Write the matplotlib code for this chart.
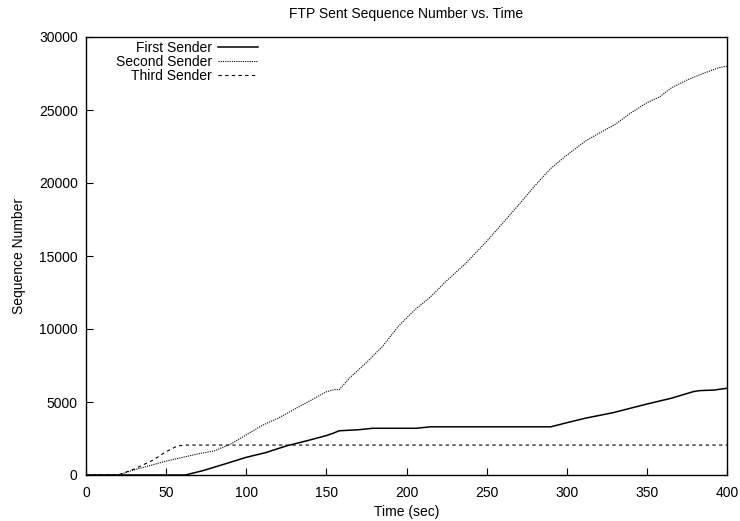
import matplotlib
matplotlib.use("Agg")
import matplotlib.pyplot as plt

plt.rcParams['font.family'] = ['Liberation Sans', 'DejaVu Sans']

# Data
t_first = [0, 62, 73, 85, 100, 112, 125, 138, 150, 154, 158, 170, 179, 206, 215, 290, 300, 312, 329, 340, 350, 365, 379, 383, 392, 400]
v_first = [0, 0, 300, 700, 1210, 1530, 1990, 2350, 2700, 2850, 3030, 3100, 3200, 3200, 3300, 3300, 3580, 3900, 4270, 4580, 4860, 5250, 5710, 5780, 5820, 5940]

t_second = [0, 20, 30, 40, 50, 60, 70, 80, 90, 100, 110, 120, 130, 140, 150, 155, 158, 165, 175, 185, 195, 205, 215, 225, 237, 250, 258, 270, 280, 290, 300, 312, 320, 330, 340, 350, 358, 365, 375, 385, 395, 400]
v_second = [0, 0, 350, 650, 950, 1200, 1450, 1650, 2100, 2750, 3400, 3900, 4500, 5100, 5700, 5850, 5850, 6700, 7700, 8800, 10200, 11300, 12200, 13300, 14500, 16000, 17000, 18500, 19800, 21000, 21900, 22900, 23400, 24000, 24800, 25500, 25900, 26500, 27050, 27500, 27900, 28000]

t_third = [0, 20, 30, 42, 50, 57, 62, 400]
v_third = [0, 0, 400, 1030, 1600, 1990, 2050, 2050]

x_ticks = [0, 50, 100, 150, 200, 250, 300, 350, 400]
y_ticks = [0, 5000, 10000, 15000, 20000, 25000, 30000]

FS = 10

fig = plt.figure(figsize=(7.4, 5.21), dpi=100)
ax = fig.add_axes([86/740, 46/521, (727-86)/740, (475-37)/521])

ax.plot(t_first, v_first, color='black', lw=1.1, ls='-', label='First Sender')
ax.plot(t_second, v_second, color='black', lw=0.8, ls=(0, (1, 1)), label='Second Sender')
ax.plot(t_third, v_third, color='black', lw=0.8, ls=(0, (3, 3)), label='Third Sender')

ax.set_xlim(0, 400)
ax.set_ylim(0, 30000)
ax.set_xticks(x_ticks)
ax.set_yticks(y_ticks)
ax.tick_params(direction='in', length=5, width=0.8, labelsize=FS)
ax.tick_params(axis='x', pad=8)
ax.tick_params(axis='y', pad=6)
for s in ax.spines.values():
    s.set_linewidth(1.0)

ax.set_title('FTP Sent Sequence Number vs. Time', fontsize=FS, pad=14)
ax.set_xlabel('Time (sec)', fontsize=FS, labelpad=3.5)
ax.set_ylabel('Sequence Number', fontsize=FS, labelpad=9)

leg = ax.legend(loc='upper left', frameon=False, markerfirst=False, fontsize=FS,
                handlelength=2.9, handletextpad=0.45, labelspacing=0.0,
                borderaxespad=0.0, borderpad=0.2, bbox_to_anchor=(0.042, 0.997))
for txt in leg.get_texts():
    txt.set_ha('right')
leg._legend_box.align = 'right'

fig.savefig('out.png', dpi=100)
